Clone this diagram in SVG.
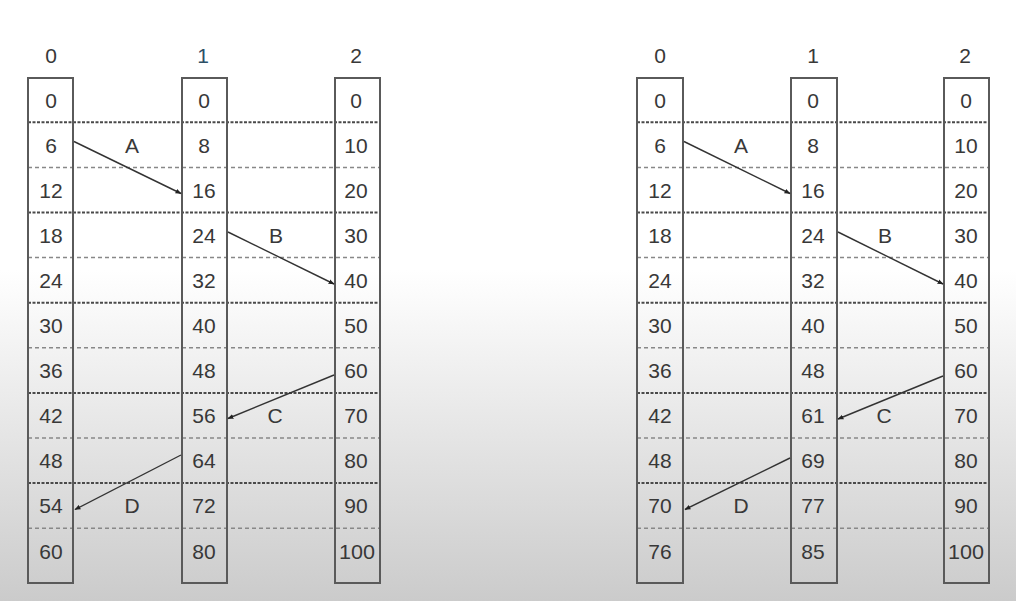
<svg xmlns="http://www.w3.org/2000/svg" width="1016" height="601" viewBox="0 0 1016 601">
<defs>
<linearGradient id="bg" x1="0" y1="0" x2="0" y2="1">
<stop offset="0" stop-color="#ffffff"/>
<stop offset="0.45" stop-color="#ffffff"/>
<stop offset="1" stop-color="#cbcbcb"/>
</linearGradient>
<marker id="ah" viewBox="0 0 10 10" refX="9" refY="5" markerWidth="6" markerHeight="6" orient="auto" markerUnits="userSpaceOnUse">
<path d="M0,1 L10,5 L0,9 Z" fill="#222"/>
</marker>
<style>
.box{fill:none;stroke:#5a5a5a;stroke-width:2}
.t{font-family:"Liberation Sans",Arial,sans-serif;font-size:21px;fill:#383838;text-anchor:middle}
.h{font-family:"Liberation Sans",Arial,sans-serif;font-size:21px;fill:#383838;text-anchor:middle}
.d1{stroke:#4a4a4a;stroke-width:2;stroke-dasharray:3 1.5}
.d2{stroke:#888;stroke-width:1.5;stroke-dasharray:4 3}
.ar{stroke:#333;stroke-width:1.4;fill:none;marker-end:url(#ah)}
</style>
</defs>
<rect width="1016" height="601" fill="url(#bg)"/>

<g id="grid-left">
<line class="d1" x1="28" y1="122.3" x2="380" y2="122.3"/>
<line class="d2" x1="28" y1="167.4" x2="380" y2="167.4"/>
<line class="d1" x1="28" y1="212.5" x2="380" y2="212.5"/>
<line class="d2" x1="28" y1="257.6" x2="380" y2="257.6"/>
<line class="d1" x1="28" y1="302.7" x2="380" y2="302.7"/>
<line class="d2" x1="28" y1="347.8" x2="380" y2="347.8"/>
<line class="d1" x1="28" y1="392.9" x2="380" y2="392.9"/>
<line class="d2" x1="28" y1="438" x2="380" y2="438"/>
<line class="d1" x1="28" y1="483.1" x2="380" y2="483.1"/>
<line class="d2" x1="28" y1="528.2" x2="380" y2="528.2"/>
</g>
<g id="grid-right">
<line class="d1" x1="637" y1="122.3" x2="989" y2="122.3"/>
<line class="d2" x1="637" y1="167.4" x2="989" y2="167.4"/>
<line class="d1" x1="637" y1="212.5" x2="989" y2="212.5"/>
<line class="d2" x1="637" y1="257.6" x2="989" y2="257.6"/>
<line class="d1" x1="637" y1="302.7" x2="989" y2="302.7"/>
<line class="d2" x1="637" y1="347.8" x2="989" y2="347.8"/>
<line class="d1" x1="637" y1="392.9" x2="989" y2="392.9"/>
<line class="d2" x1="637" y1="438" x2="989" y2="438"/>
<line class="d1" x1="637" y1="483.1" x2="989" y2="483.1"/>
<line class="d2" x1="637" y1="528.2" x2="989" y2="528.2"/>
</g>

<g id="L0">
<text class="h" x="51" y="63">0</text>
<rect class="box" x="28" y="78" width="45" height="505"/>
<text class="t" x="51" y="107.5">0</text>
<text class="t" x="51" y="152.6">6</text>
<text class="t" x="51" y="197.7">12</text>
<text class="t" x="51" y="242.8">18</text>
<text class="t" x="51" y="287.9">24</text>
<text class="t" x="51" y="333">30</text>
<text class="t" x="51" y="378.1">36</text>
<text class="t" x="51" y="423.2">42</text>
<text class="t" x="51" y="468.3">48</text>
<text class="t" x="51" y="513.4">54</text>
<text class="t" x="51" y="558.5">60</text>
</g>
<g id="L1">
<text class="h" x="203" y="63" style="fill:#2c4f66">1</text>
<rect class="box" x="182" y="78" width="45" height="505"/>
<text class="t" x="204" y="107.5">0</text>
<text class="t" x="204" y="152.6">8</text>
<text class="t" x="204" y="197.7">16</text>
<text class="t" x="204" y="242.8">24</text>
<text class="t" x="204" y="287.9">32</text>
<text class="t" x="204" y="333">40</text>
<text class="t" x="204" y="378.1">48</text>
<text class="t" x="204" y="423.2">56</text>
<text class="t" x="204" y="468.3">64</text>
<text class="t" x="204" y="513.4">72</text>
<text class="t" x="204" y="558.5">80</text>
</g>
<g id="L2">
<text class="h" x="356" y="63">2</text>
<rect class="box" x="335" y="78" width="45" height="505"/>
<text class="t" x="356" y="107.5">0</text>
<text class="t" x="356" y="152.6">10</text>
<text class="t" x="356" y="197.7">20</text>
<text class="t" x="356" y="242.8">30</text>
<text class="t" x="356" y="287.9">40</text>
<text class="t" x="356" y="333">50</text>
<text class="t" x="356" y="378.1">60</text>
<text class="t" x="356" y="423.2">70</text>
<text class="t" x="356" y="468.3">80</text>
<text class="t" x="356" y="513.4">90</text>
<text class="t" x="357" y="558.5" textLength="36" lengthAdjust="spacingAndGlyphs">100</text>
</g>

<g id="R0">
<text class="h" x="660" y="63">0</text>
<rect class="box" x="637" y="78" width="46" height="505"/>
<text class="t" x="660" y="107.5">0</text>
<text class="t" x="660" y="152.6">6</text>
<text class="t" x="660" y="197.7">12</text>
<text class="t" x="660" y="242.8">18</text>
<text class="t" x="660" y="287.9">24</text>
<text class="t" x="660" y="333">30</text>
<text class="t" x="660" y="378.1">36</text>
<text class="t" x="660" y="423.2">42</text>
<text class="t" x="660" y="468.3">48</text>
<text class="t" x="660" y="513.4">70</text>
<text class="t" x="660" y="558.5">76</text>
</g>
<g id="R1">
<text class="h" x="813" y="63">1</text>
<rect class="box" x="791" y="78" width="46" height="505"/>
<text class="t" x="813" y="107.5">0</text>
<text class="t" x="813" y="152.6">8</text>
<text class="t" x="813" y="197.7">16</text>
<text class="t" x="813" y="242.8">24</text>
<text class="t" x="813" y="287.9">32</text>
<text class="t" x="813" y="333">40</text>
<text class="t" x="813" y="378.1">48</text>
<text class="t" x="813" y="423.2">61</text>
<text class="t" x="813" y="468.3">69</text>
<text class="t" x="813" y="513.4">77</text>
<text class="t" x="813" y="558.5">85</text>
</g>
<g id="R2">
<text class="h" x="965" y="63">2</text>
<rect class="box" x="944" y="78" width="45" height="505"/>
<text class="t" x="966" y="107.5">0</text>
<text class="t" x="966" y="152.6">10</text>
<text class="t" x="966" y="197.7">20</text>
<text class="t" x="966" y="242.8">30</text>
<text class="t" x="966" y="287.9">40</text>
<text class="t" x="966" y="333">50</text>
<text class="t" x="966" y="378.1">60</text>
<text class="t" x="966" y="423.2">70</text>
<text class="t" x="966" y="468.3">80</text>
<text class="t" x="966" y="513.4">90</text>
<text class="t" x="966" y="558.5" textLength="36" lengthAdjust="spacingAndGlyphs">100</text>
</g>

<g id="connectors">
<line class="ar" x1="74" y1="141.5" x2="181" y2="193.5"/>
<line class="ar" x1="228" y1="232" x2="334" y2="284"/>
<line class="ar" x1="334" y1="375" x2="228" y2="418.5"/>
<line class="ar" x1="181" y1="455" x2="75" y2="509.5"/>
<line class="ar" x1="684" y1="141.5" x2="790" y2="193.5"/>
<line class="ar" x1="838" y1="232" x2="943" y2="284"/>
<line class="ar" x1="943" y1="376" x2="838" y2="419"/>
<line class="ar" x1="790" y1="458" x2="685" y2="509.5"/>
<text class="t" x="132" y="152.6">A</text>
<text class="t" x="276" y="242.8">B</text>
<text class="t" x="275" y="423.2">C</text>
<text class="t" x="132" y="513.4">D</text>
<text class="t" x="741" y="152.6">A</text>
<text class="t" x="885" y="242.8">B</text>
<text class="t" x="884" y="423.2">C</text>
<text class="t" x="741" y="513.4">D</text>
</g>
</svg>
